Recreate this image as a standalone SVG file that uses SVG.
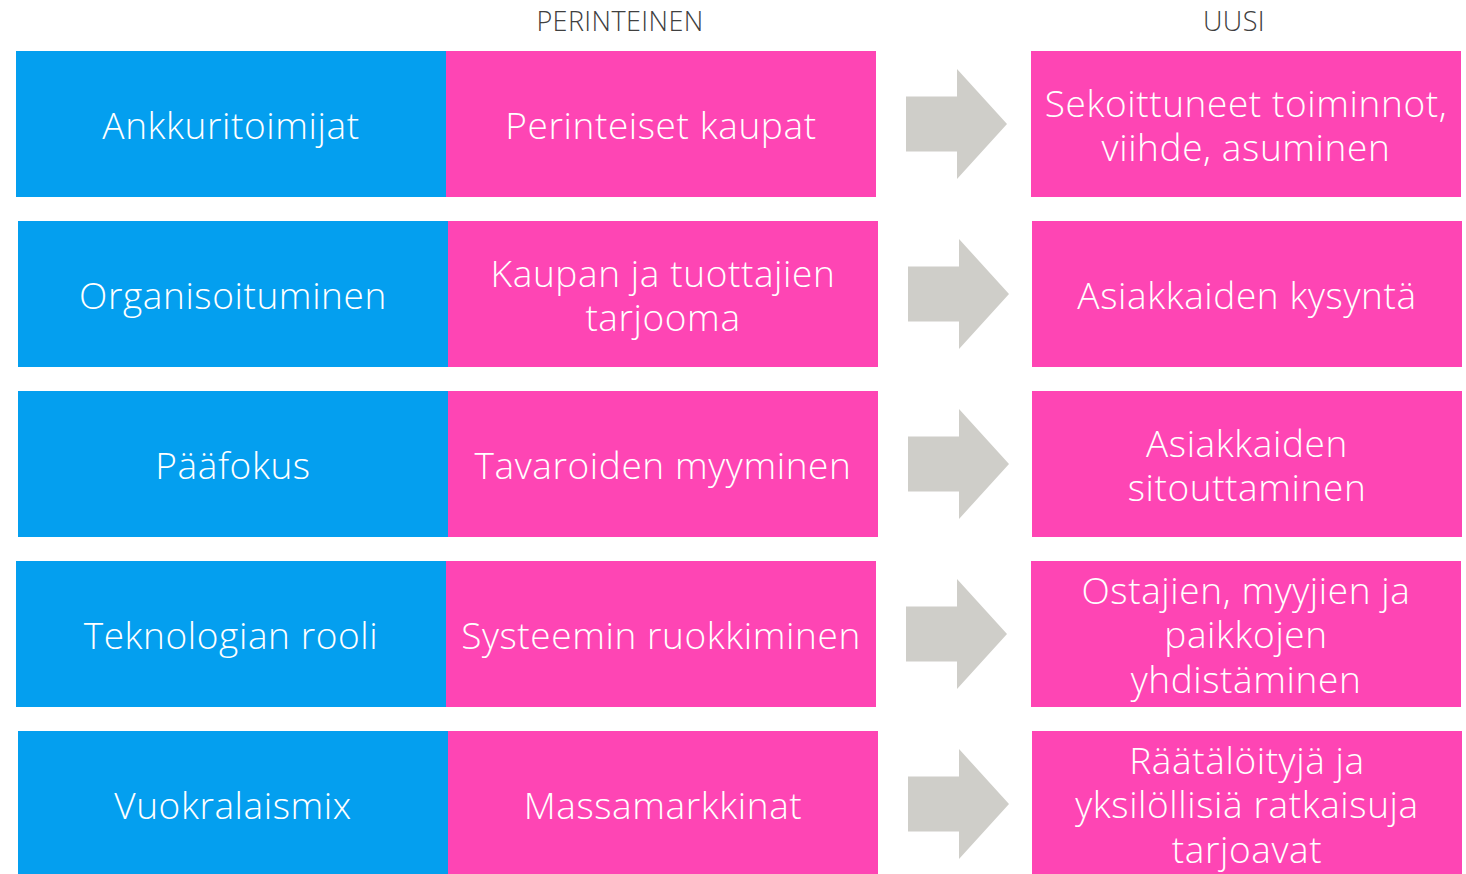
<svg xmlns="http://www.w3.org/2000/svg" width="1466" height="874" viewBox="0 0 1466 874">
  <defs>
    <style>
      .lbl { font-family: "Open Sans", "Liberation Sans", sans-serif; font-weight: 300; font-size: 37px; letter-spacing: 0.6px; fill: #ffffff; text-anchor: middle; }
      .hdr { font-family: "Open Sans", "Liberation Sans", sans-serif; font-weight: 300; font-size: 27px; letter-spacing: 0.4px; fill: #404040; text-anchor: middle; }
      .blue { fill: #049FEF; }
      .pink { fill: #FE45B4; }
      .arrow { fill: #CFCEC9; }
    </style>
    <polygon id="arr" points="0,27.5 51,27.5 51,0 101,55 51,110 51,82.5 0,82.5"/>
  </defs>
  <rect width="1466" height="874" fill="#ffffff"/>

  <!-- column headers -->
  <text class="hdr" x="620" y="31">PERINTEINEN</text>
  <text class="hdr" x="1234" y="31">UUSI</text>

  <!-- row 1 -->
  <g id="row1-topic"><rect class="blue" x="16" y="51" width="430" height="146"/><text class="lbl" x="231" y="139">Ankkuritoimijat</text></g>
  <g id="row1-old"><rect class="pink" x="446" y="51" width="430" height="146"/><text class="lbl" x="661" y="139">Perinteiset kaupat</text></g>
  <g id="row1-new"><rect class="pink" x="1031" y="51" width="430" height="146"/><text class="lbl" x="1246" y="117">Sekoittuneet toiminnot,</text><text class="lbl" x="1246" y="161">viihde, asuminen</text></g>

  <!-- row 2 -->
  <g id="row2-topic"><rect class="blue" x="18" y="221" width="430" height="146"/><text class="lbl" x="233" y="309">Organisoituminen</text></g>
  <g id="row2-old"><rect class="pink" x="448" y="221" width="430" height="146"/><text class="lbl" x="663" y="287">Kaupan ja tuottajien</text><text class="lbl" x="663" y="331">tarjooma</text></g>
  <g id="row2-new"><rect class="pink" x="1032" y="221" width="430" height="146"/><text class="lbl" x="1247" y="309">Asiakkaiden kysyntä</text></g>

  <!-- row 3 -->
  <g id="row3-topic"><rect class="blue" x="18" y="391" width="430" height="146"/><text class="lbl" x="233" y="479">Pääfokus</text></g>
  <g id="row3-old"><rect class="pink" x="448" y="391" width="430" height="146"/><text class="lbl" x="663" y="479">Tavaroiden myyminen</text></g>
  <g id="row3-new"><rect class="pink" x="1032" y="391" width="430" height="146"/><text class="lbl" x="1247" y="457">Asiakkaiden</text><text class="lbl" x="1247" y="501">sitouttaminen</text></g>

  <!-- row 4 -->
  <g id="row4-topic"><rect class="blue" x="16" y="561" width="430" height="146"/><text class="lbl" x="231" y="649">Teknologian rooli</text></g>
  <g id="row4-old"><rect class="pink" x="446" y="561" width="430" height="146"/><text class="lbl" x="661" y="649">Systeemin ruokkiminen</text></g>
  <g id="row4-new"><rect class="pink" x="1031" y="561" width="430" height="146"/><text class="lbl" x="1246" y="604">Ostajien, myyjien ja</text><text class="lbl" x="1246" y="648">paikkojen</text><text class="lbl" x="1246" y="693">yhdistäminen</text></g>

  <!-- row 5 -->
  <g id="row5-topic"><rect class="blue" x="18" y="731" width="430" height="143"/><text class="lbl" x="233" y="819">Vuokralaismix</text></g>
  <g id="row5-old"><rect class="pink" x="448" y="731" width="430" height="143"/><text class="lbl" x="663" y="819">Massamarkkinat</text></g>
  <g id="row5-new"><rect class="pink" x="1032" y="731" width="430" height="143"/><text class="lbl" x="1247" y="774">Räätälöityjä ja</text><text class="lbl" x="1247" y="818">yksilöllisiä ratkaisuja</text><text class="lbl" x="1247" y="863">tarjoavat</text></g>

  <!-- transition arrows -->
  <g id="connectors" class="arrow">
    <use href="#arr" x="906" y="69"/>
    <use href="#arr" x="908" y="239"/>
    <use href="#arr" x="908" y="409"/>
    <use href="#arr" x="906" y="579"/>
    <use href="#arr" x="908" y="749"/>
  </g>
</svg>
